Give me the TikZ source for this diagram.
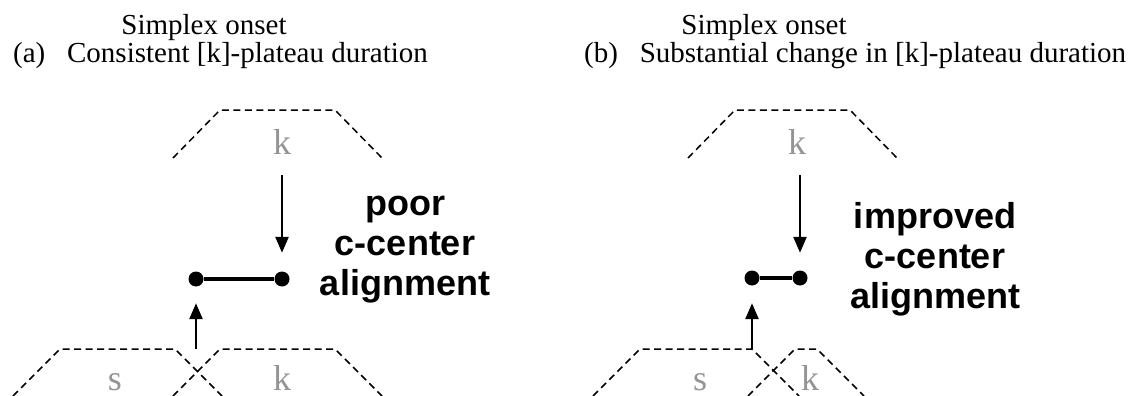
\documentclass[tikz,border=0pt]{standalone}
\usepackage{fontspec}
\setmainfont{Liberation Serif}
\newfontfamily\notefont{Liberation Sans}
\usetikzlibrary{arrows.meta}

\begin{document}
\begin{tikzpicture}[x=1pt, y=-1pt, line join=miter,
        gesture/.style={dash pattern=on 7pt off 4.5pt, line width=1.5pt},
        seg/.style={text=black!42, font=\fontsize{36}{36}\selectfont, anchor=base, inner sep=0pt},
        title/.style={font=\fontsize{29}{29}\selectfont, anchor=base, inner sep=0pt},
        note/.style={font=\notefont\bfseries\fontsize{36}{40}\selectfont, align=center, anchor=base, inner sep=0pt},
        endpt/.style={circle, fill=black, minimum size=15pt, inner sep=0pt},
        arr/.style={line width=2.5pt, -{Triangle[length=16pt, width=13pt]}},
        bar/.style={line width=4.5pt}]
    \useasboundingbox (0,0) rectangle (1138,396);

    % (a) consistent plateau
    \node[title] (ta) at (204,35) {Simplex onset};
    \node[title, anchor=base west] (sa) at (13,63) {(a)\hspace{0.75em}Consistent [k]-plateau duration};
    \draw[gesture] (173,158) -- (220,110) -- (335,110) -- (382,158);
    \node[seg] (ka1) at (282,154) {k};
    \draw[gesture] (13,396) -- (60,349) -- (175,349) -- (222,396);
    \draw[gesture] (173,396) -- (220,349) -- (335,349) -- (382,396);
    \node[seg] (sa2) at (115,390) {s};
    \node[seg] (ka2) at (282,390) {k};
    \node[endpt] (la) at (196,279) {};
    \node[endpt] (ra) at (282,279) {};
    \coordinate (downa) at (282,175);
    \coordinate (upa) at (196,349);
    \draw[bar] (la) -- (ra);
    \draw[arr, shorten >=18.5pt] (downa) -- (ra);
    \draw[arr, shorten >=16.5pt] (upa) -- (la);
    \node[note] (na) at (405,295) {poor\\c-center\\alignment};

    % (b) changed plateau
    \node[title] (tb) at (764,35) {Simplex onset};
    \node[title, anchor=base west] (sb) at (584,63) {(b)\hspace{0.75em}Substantial change in [k]-plateau duration};
    \draw[gesture] (688,158) -- (735,110) -- (850,110) -- (897,158);
    \node[seg] (kb1) at (797,154) {k};
    \draw[gesture] (593,396) -- (640,349) -- (752,349) -- (799,396);
    \draw[gesture] (748,396) -- (795,349) -- (817,349) -- (864,396);
    \node[seg] (sb2) at (700,390) {s};
    \node[seg] (kb2) at (810,390) {k};
    \node[endpt] (lb) at (752,278) {};
    \node[endpt] (rb) at (800,278) {};
    \coordinate (downb) at (800,175);
    \coordinate (upb) at (752,349);
    \draw[bar] (lb) -- (rb);
    \draw[arr, shorten >=17.5pt] (downb) -- (rb);
    \draw[arr, shorten >=17.5pt] (upb) -- (lb);
    \node[note] (nb) at (935,308) {improved\\c-center\\alignment};
\end{tikzpicture}
\end{document}
